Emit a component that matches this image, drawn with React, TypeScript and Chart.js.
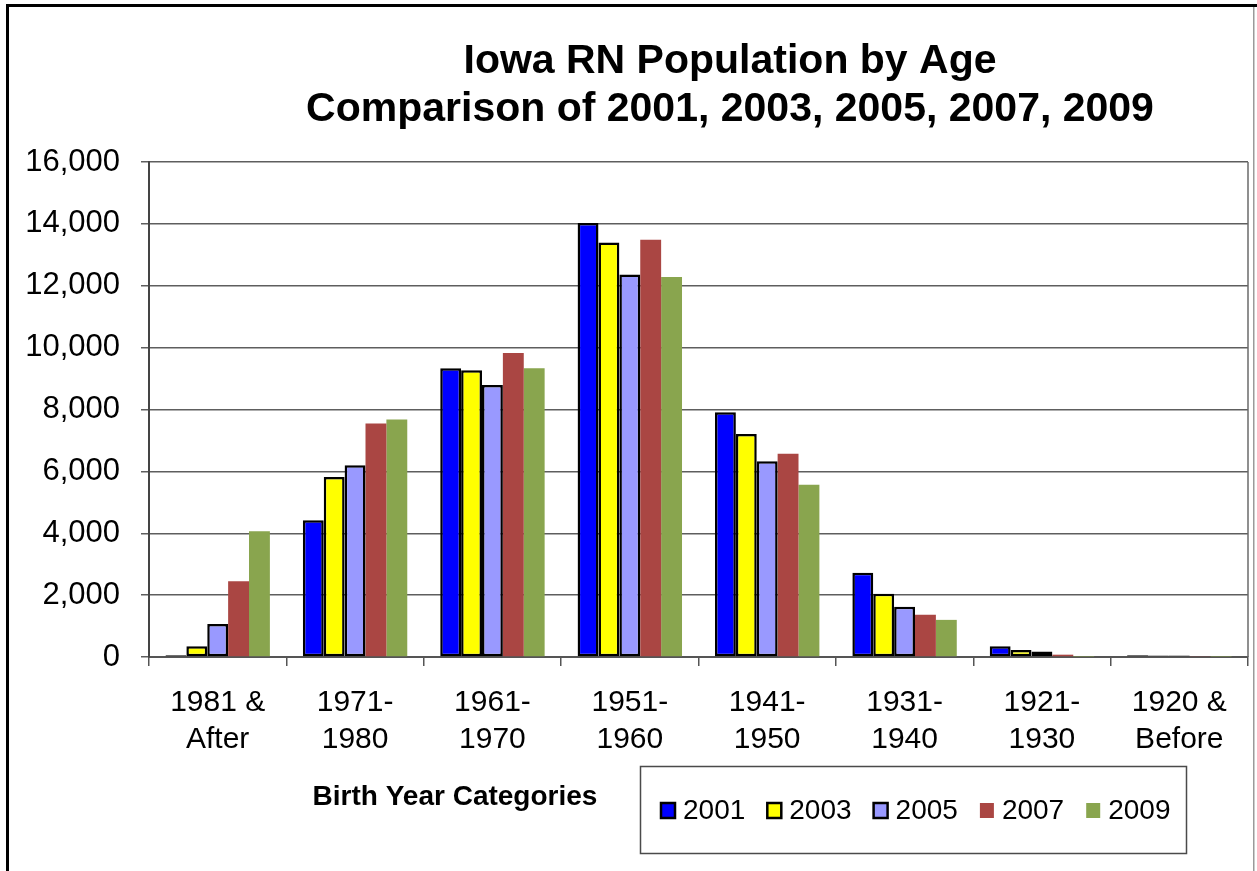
import React, { useEffect, useRef } from 'react';
import { Chart, registerables } from 'chart.js';

Chart.register(...registerables);

const FONT = "'Liberation Sans', Arial, Helvetica, sans-serif";

const titleLines = ['Iowa RN Population by Age', 'Comparison of 2001, 2003, 2005, 2007, 2009'];
const xAxisTitle = 'Birth Year Categories';

const categories: string[][] = [
  ['1981 &', 'After'],
  ['1971-', '1980'],
  ['1961-', '1970'],
  ['1951-', '1960'],
  ['1941-', '1950'],
  ['1931-', '1940'],
  ['1921-', '1930'],
  ['1920 &', 'Before'],
];

const seriesLabels = ['2001', '2003', '2005', '2007', '2009'];
const seriesColors = ['#0000FF', '#FFFF00', '#9999FF', '#AA4643', '#89A54E'];
const seriesOutlined = [true, true, true, false, false];

const values2001 = [60, 4420, 9330, 14030, 7910, 2720, 350, 55];
const values2003 = [345, 5815, 9265, 13400, 7210, 2045, 225, 50];
const values2005 = [1070, 6200, 8790, 12365, 6330, 1625, 175, 50];
const values2007 = [2450, 7550, 9830, 13485, 6570, 1365, 75, 30];
const values2009 = [4065, 7680, 9330, 12280, 5565, 1200, 10, 10];

const seriesValues = [values2001, values2003, values2005, values2007, values2009];

const yMin = 0;
const yMax = 16000;
const yStep = 2000;

const decorPlugin = {
  id: 'decor',
  beforeDraw(chart: any) {
    const { ctx, width, height } = chart;
    ctx.save();
    ctx.fillStyle = '#ffffff';
    ctx.fillRect(0, 0, width, height);
    // outer frame
    ctx.fillStyle = '#000000';
    ctx.fillRect(6, 4, width - 6, 3);
    ctx.fillRect(6, 4, 3, height - 4);
    ctx.fillStyle = '#9a9a9a';
    ctx.fillRect(1253, 7, 1.5, height - 7);
    ctx.restore();
  },
  afterDraw(chart: any) {
    const { ctx, chartArea } = chart;
    ctx.save();
    // plot area right border
    ctx.strokeStyle = '#6a6a6a';
    ctx.lineWidth = 1.5;
    ctx.beginPath();
    ctx.moveTo(chartArea.right, chartArea.top);
    ctx.lineTo(chartArea.right, chartArea.bottom);
    ctx.stroke();

    // title
    ctx.fillStyle = '#000000';
    ctx.font = `bold 41px ${FONT}`;
    ctx.textAlign = 'center';
    ctx.textBaseline = 'alphabetic';
    titleLines.forEach((t, i) => ctx.fillText(t, 730, 73 + i * 47.5));

    // x axis title
    ctx.font = `bold 28px ${FONT}`;
    ctx.textBaseline = 'middle';
    ctx.fillText(xAxisTitle, 455, 797);

    // legend box
    ctx.strokeStyle = '#4a4a4a';
    ctx.lineWidth = 1.5;
    ctx.strokeRect(640.5, 766.5, 546, 87);

    ctx.font = `28px ${FONT}`;
    ctx.textAlign = 'left';
    ctx.textBaseline = 'middle';
    chart.data.datasets.forEach((ds: any, i: number) => {
      const x = 661 + i * 106.3;
      ctx.fillStyle = ds.backgroundColor;
      ctx.fillRect(x, 803, 14, 15);
      if (ds.borderWidth > 0) {
        ctx.strokeStyle = '#000000';
        ctx.lineWidth = 2.5;
        ctx.strokeRect(x, 803, 14, 15);
      }
      ctx.fillStyle = '#000000';
      ctx.fillText(ds.label, x + 22, 811);
    });
    ctx.restore();
  },
};

export default function App() {
  const canvasRef = useRef<HTMLCanvasElement | null>(null);

  useEffect(() => {
    const canvas = canvasRef.current;
    if (!canvas) return;
    const chart = new Chart(canvas, {
      type: 'bar',
      data: {
        labels: categories,
        datasets: seriesLabels.map((label, i) => ({
          label,
          data: seriesValues[i],
          backgroundColor: seriesColors[i],
          borderColor: '#000000',
          borderWidth: seriesOutlined[i] ? 2.5 : 0,
          borderSkipped: false,
          categoryPercentage: 0.76,
          barPercentage: 1.0,
        })),
      },
      options: {
        responsive: false,
        animation: false,
        devicePixelRatio: 1,
        layout: { padding: { top: 162, left: 0, right: 9, bottom: 0 } },
        plugins: {
          legend: { display: false },
          title: { display: false },
          tooltip: { enabled: false },
        },
        scales: {
          x: {
            offset: true,
            grid: {
              offset: true,
              drawOnChartArea: false,
              drawTicks: true,
              tickLength: 9,
              color: '#555555',
              lineWidth: 1.5,
            },
            border: { display: true, color: '#555555', width: 2 },
            ticks: {
              color: '#000000',
              padding: 18,
              maxRotation: 0,
              autoSkip: false,
              font: { family: FONT, size: 30, lineHeight: 1.23 },
            },
            afterFit(scale: any) {
              scale.height = 214;
            },
          },
          y: {
            min: yMin,
            max: yMax,
            grid: {
              color: '#5e5e5e',
              lineWidth: 1.5,
              tickLength: 8,
            },
            border: { display: true, color: '#444444', width: 2 },
            ticks: {
              stepSize: yStep,
              color: '#000000',
              padding: 21,
              font: { family: FONT, size: 31 },
              callback: (v: any) => Number(v).toLocaleString('en-US'),
            },
            afterFit(scale: any) {
              scale.width = 149;
            },
          },
        },
      },
      plugins: [decorPlugin],
    });
    return () => chart.destroy();
  }, []);

  return (
    <div style={{ position: 'absolute', left: 0, top: 0, width: 1257, height: 871 }}>
      <canvas ref={canvasRef} width={1257} height={871} style={{ display: 'block' }} />
    </div>
  );
}
